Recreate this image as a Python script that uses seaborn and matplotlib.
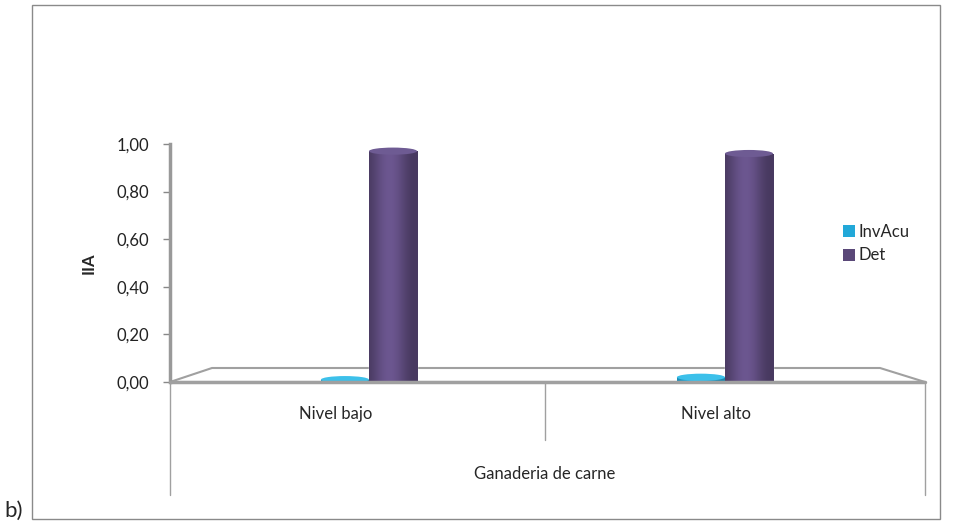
import numpy as np
import pandas as pd
import seaborn as sns
import matplotlib.pyplot as plt
from matplotlib.patches import Ellipse, Rectangle, Polygon
from matplotlib.lines import Line2D

# data
niveles = ["Nivel bajo", "Nivel alto"]
series = ["InvAcu", "Det"]
inv_acu = [0.01, 0.02]
det = [0.97, 0.96]
colores = ["#22a8d8", "#5a4878"]
tapas = ["#3cc0ea", "#6e5b93"]

df = pd.DataFrame({
    "nivel": niveles * 2,
    "serie": [series[0]] * 2 + [series[1]] * 2,
    "IIA": inv_acu + det,
})

sns.set_style("white")
plt.rcParams["font.family"] = ["Lato", "DejaVu Sans"]
fs = 12

fig = plt.figure(figsize=(9.72, 5.23), dpi=100)
ax = fig.add_axes([170 / 972, 1 - 382 / 523, 755 / 972, (382 - 144) / 523])

sns.barplot(data=df, x="nivel", y="IIA", hue="serie", palette=colores,
            width=0.27, saturation=1, ax=ax, legend=False, zorder=3)

# cylinder look: shaded bodies and elliptic caps
for i, bar in enumerate(ax.patches[:4]):
    x0, w, h = bar.get_x(), bar.get_width(), bar.get_height()
    k = i // 2
    grad = np.linspace(0, 1, 64)
    shade = 0.8 + 0.4 * np.sin(np.pi * (grad * 0.95 + 0.1)) ** 2
    base = np.array(plt.matplotlib.colors.to_rgb(colores[k]))
    img = np.clip(base[None, None, :] * shade[None, :, None], 0, 1)
    im = ax.imshow(img, extent=[x0, x0 + w, 0, h], aspect="auto", zorder=4)
    im.set_clip_path(bar)
    ax.add_patch(Ellipse((x0 + w / 2, h), w, 0.03, facecolor=tapas[k],
                         edgecolor="none", zorder=5))
    ax.add_patch(Ellipse((x0 + w / 2, 0.005), w, 0.02, facecolor=base * 0.85,
                         edgecolor="none", zorder=2))

ax.set_xlim(-0.559, 1.562)
ax.set_ylim(0, 1.0)
ticks = np.arange(0, 1.01, 0.2)
ax.set_yticks(ticks)
ax.set_yticklabels([f"{v:.2f}".replace(".", ",") for v in ticks],
                   fontsize=fs, color="#222222")
ax.tick_params(axis="y", direction="out", length=5, width=1, color="#888888", pad=10, left=True)
ax.set_xticks([])
ax.set_xlabel("")
ax.set_ylabel("IIA", fontsize=fs, fontweight="bold", labelpad=14)
for s in ["top", "right", "bottom"]:
    ax.spines[s].set_visible(False)
ax.spines["left"].set_color("#999999")
ax.spines["left"].set_linewidth(2.5)

# 3D floor
gris = "#a0a0a0"
floor = Polygon([[0, 0], [1, 0], [(880 - 170) / 755, 14 / 238], [(212 - 170) / 755, 14 / 238]],
                closed=True, transform=ax.transAxes, facecolor="white",
                edgecolor=gris, lw=1.5, zorder=1, clip_on=False)
ax.add_patch(floor)
ax.plot([0, 1], [0, 0], transform=ax.transAxes, color=gris, lw=2.5, clip_on=False, zorder=6)

# category frame below the axis
def fy(py):
    return 1 - py / 523

def fx(px):
    return px / 972

for px, bot in [(170, 495), (545, 440), (925, 495)]:
    fig.add_artist(Line2D([fx(px), fx(px)], [fy(382), fy(bot)], color="#a0a0a0", lw=1))

fig.text(fx(336), fy(414), niveles[0], ha="center", va="center", fontsize=fs)
fig.text(fx(716), fy(414), niveles[1], ha="center", va="center", fontsize=fs)
fig.text(fx(545), fy(474), "Ganaderia de carne", ha="center", va="center", fontsize=fs)

# legend
handles = [Rectangle((0, 0), 1, 1, facecolor=c, edgecolor="none") for c in colores]
fig.legend(handles, series, loc="upper left", bbox_to_anchor=(fx(828), fy(209)),
           frameon=False, fontsize=fs, handlelength=0.7, handleheight=0.7,
           handletextpad=0.2, labelspacing=0.45)

# outer border and panel letter
fig.add_artist(Rectangle((fx(32), fy(519)), fx(940) - fx(32), fy(5) - fy(519),
                         fill=False, edgecolor="#8a8a8a", lw=1, transform=fig.transFigure))
fig.text(fx(4), fy(511), "b)", ha="left", va="center", fontsize=16)

fig.savefig("out.png", dpi=100)
